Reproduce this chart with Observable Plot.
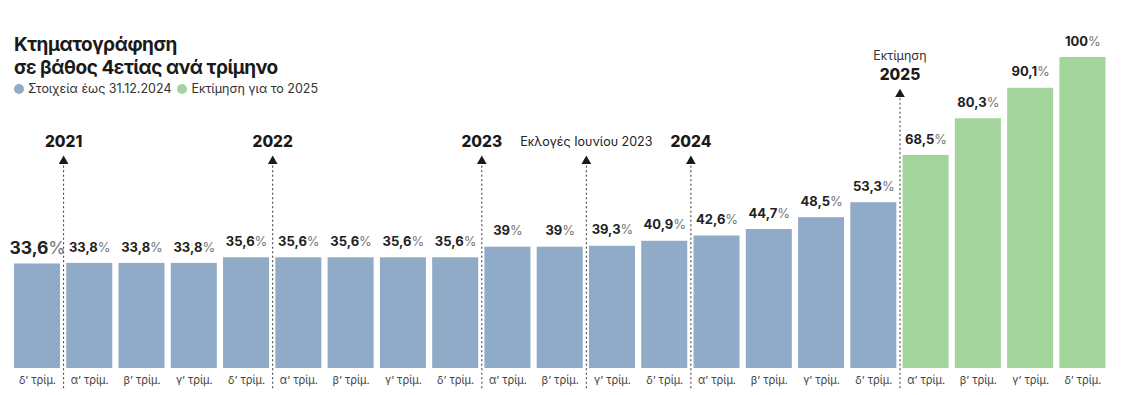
<!DOCTYPE html>
<html>
<head>
<meta charset="utf-8">
<script src="https://cdn.jsdelivr.net/npm/d3@7"></script>
<script src="https://cdn.jsdelivr.net/npm/@observablehq/plot@0.6"></script>
<style>
  html, body { margin: 0; padding: 0; background: #fff; }
  #wrap { position: relative; width: 1130px; height: 395px; overflow: hidden; font-family: Inter, "Open Sans", sans-serif; }
  #head { position: absolute; left: 14px; top: 33px; z-index: 2; }
  #title { font-size: 19px; font-weight: 700; color: #1a1a1a; line-height: 23px; letter-spacing: -0.45px; }
  #legend { font-size: 12.5px; color: #333; margin-top: 2px; display: flex; gap: 6px; align-items: center; }
  #legend span.sw { display: inline-block; width: 10px; height: 10px; border-radius: 50%; margin-right: 4px; vertical-align: -1px; }
  #chart { position: absolute; left: 0; top: 0; }
</style>
</head>
<body>
<div id="wrap">
  <div id="head">
    <div id="title">Κτηματογράφηση<br>σε βάθος 4ετίας ανά τρίμηνο</div>
    <div id="legend"></div>
  </div>
  <div id="chart"></div>
</div>
<script>
// ---- data ----
const quarters = ["δ’ τρίμ.","α’ τρίμ.","β’ τρίμ.","γ’ τρίμ.","δ’ τρίμ.","α’ τρίμ.","β’ τρίμ.","γ’ τρίμ.","δ’ τρίμ.","α’ τρίμ.","β’ τρίμ.","γ’ τρίμ.","δ’ τρίμ.","α’ τρίμ.","β’ τρίμ.","γ’ τρίμ.","δ’ τρίμ.","α’ τρίμ.","β’ τρίμ.","γ’ τρίμ.","δ’ τρίμ."];
const values = [33.6, 33.8, 33.8, 33.8, 35.6, 35.6, 35.6, 35.6, 35.6, 39, 39, 39.3, 40.9, 42.6, 44.7, 48.5, 53.3, 68.5, 80.3, 90.1, 100];
const series = ["Στοιχεία έως 31.12.2024","Στοιχεία έως 31.12.2024","Στοιχεία έως 31.12.2024","Στοιχεία έως 31.12.2024","Στοιχεία έως 31.12.2024","Στοιχεία έως 31.12.2024","Στοιχεία έως 31.12.2024","Στοιχεία έως 31.12.2024","Στοιχεία έως 31.12.2024","Στοιχεία έως 31.12.2024","Στοιχεία έως 31.12.2024","Στοιχεία έως 31.12.2024","Στοιχεία έως 31.12.2024","Στοιχεία έως 31.12.2024","Στοιχεία έως 31.12.2024","Στοιχεία έως 31.12.2024","Στοιχεία έως 31.12.2024","Εκτίμηση για το 2025","Εκτίμηση για το 2025","Εκτίμηση για το 2025","Εκτίμηση για το 2025"];
const seriesNames = ["Στοιχεία έως 31.12.2024", "Εκτίμηση για το 2025"];
const seriesColors = ["#8fabc7", "#a2d49b"];
// markers: placed before the bar with this index
const markerIndex = [1, 5, 9, 11, 13, 17];
const markerTitle = ["2021", "2022", "2023", "Εκλογές Ιουνίου 2023", "2024", "2025"];
const markerBold = [true, true, true, false, true, true];
const markerSub = ["", "", "", "", "", "Εκτίμηση"];

// ---- layout ----
const W = 1130, H = 395;
const mL = 7.7, mR = 18.3, mT = 57, mB = 27;
const pad = 0.12;
const step = (W - mL - mR) / (values.length - pad + 2 * pad);

const bars = values.map((v, i) => ({key: String(i), q: quarters[i], v, s: series[i], first: i === 0}));
const markers = markerIndex.map((idx, j) => ({
  key: String(idx), title: markerTitle[j], bold: markerBold[j], sub: markerSub[j],
  top: markerSub[j] ? 88.5 : 67
}));
const fmt = v => String(v).replace(".", ",") + "%";

// legend
const leg = d3.select("#legend");
seriesNames.forEach((n, i) => {
  const s = leg.append("span");
  s.append("span").attr("class", "sw").style("background", seriesColors[i]);
  s.append("span").text(n);
});

const plot = Plot.plot({
  width: W, height: H,
  marginLeft: mL, marginRight: mR, marginTop: mT, marginBottom: mB,
  style: {fontFamily: "Inter, 'Open Sans', sans-serif", background: "transparent", overflow: "visible"},
  x: {domain: bars.map(d => d.key), padding: pad, round: false, tickFormat: k => quarters[+k], tickSize: 0, tickPadding: 8, label: null},
  y: {domain: [0, 100], axis: null},
  color: {domain: seriesNames, range: seriesColors},
  marks: [
    Plot.barY(bars, {x: "key", y: "v", fill: "s"}),
    Plot.ruleX(markers, {x: "key", y1: -6.5, y2: "top", dx: -step / 2, stroke: "#333", strokeWidth: 1, strokeDasharray: "2,2.5"}),
    Plot.dot(markers, {x: "key", y: "top", dx: -step / 2, dy: 1, symbol: "triangle", r: 3.6, fill: "#1a1a1a", stroke: "none"}),
    Plot.text(markers.filter(d => d.bold), {x: "key", y: "top", dx: -step / 2, dy: -18, text: "title", fontSize: 15.5, fontWeight: 800, fill: "#1a1a1a"}),
    Plot.text(markers.filter(d => !d.bold), {x: "key", y: "top", dx: -step / 2, dy: -18, text: "title", fontSize: 12.5, fill: "#222"}),
    Plot.text(markers.filter(d => d.sub), {x: "key", y: "top", dx: -step / 2, dy: -37, text: "sub", fontSize: 12.5, fill: "#333"}),
    Plot.text(bars, {x: "key", y: "v", text: d => fmt(d.v), dy: -16, fontSize: d => d.first ? 17.5 : 13, fill: "#222"})
  ]
});
d3.select("#chart").node().appendChild(plot);

// style axis tick labels
d3.select(plot).selectAll("text").filter(function() { return /τρίμ/.test(this.textContent); })
  .attr("fill", "#444").style("font-size", "11px");
// split value labels into bold number + light percent
d3.select(plot).selectAll("text").filter(function() { return /^[\d,]+%$/.test(this.textContent); }).each(function() {
  const t = d3.select(this);
  const s = t.text();
  const num = s.replace("%", "");
  t.text(null);
  t.append("tspan").attr("font-weight", 700).text(num);
  t.append("tspan").attr("font-weight", 400).attr("fill", "#777").text("%");
});
</script>
</body>
</html>
